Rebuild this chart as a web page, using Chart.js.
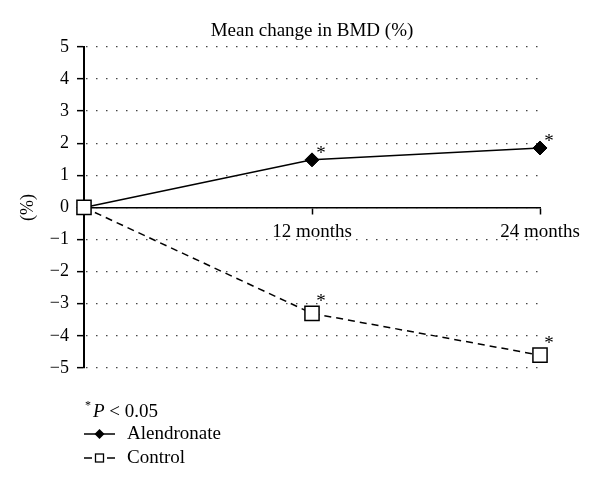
<!DOCTYPE html>
<html>
<head>
<meta charset="utf-8">
<script src="https://cdn.jsdelivr.net/npm/chart.js@4.4.0/dist/chart.umd.min.js"></script>
<style>
html, body { margin: 0; padding: 0; background: #fff; }
#wrap { width: 600px; height: 490px; }
</style>
</head>
<body>
<div id="wrap"><canvas id="c" width="600" height="490"></canvas></div>
<script>
// data
const months = [0, 12, 24];
const alendronate = [0, 1.48, 1.85];
const control = [0, -3.3, -4.6];
const alendronateSig = [false, true, true];
const controlSig = [false, true, true];
const yTicks = [-5, -4, -3, -2, -1, 0, 1, 2, 3, 4, 5];
const xTicks = [12, 24];
const seriesNames = ['Alendronate', 'Control'];

const SERIF = '"Liberation Serif", "DejaVu Serif", serif';

// asterisks next to significant points
const starPlugin = {
    id: 'stars',
    afterDatasetsDraw(chart) {
        const ctx = chart.ctx;
        const sigs = [alendronateSig, controlSig];
        const offs = [[9, -9], [9, -14]];
        ctx.save();
        ctx.fillStyle = '#000';
        ctx.font = '19px ' + SERIF;
        ctx.textAlign = 'center';
        ctx.textBaseline = 'middle';
        chart.data.datasets.forEach((ds, i) => {
            const meta = chart.getDatasetMeta(i);
            meta.data.forEach((pt, j) => {
                if (sigs[i][j]) ctx.fillText('*', pt.x + offs[i][0], pt.y + offs[i][1] + 3);
            });
        });
        ctx.restore();
    }
};

// legend block below the plot
const legendPlugin = {
    id: 'footLegend',
    afterDraw(chart) {
        const ctx = chart.ctx;
        const x0 = 84;
        ctx.save();
        ctx.fillStyle = '#000';
        ctx.strokeStyle = '#000';
        ctx.textBaseline = 'alphabetic';
        ctx.textAlign = 'left';

        // * P < 0.05
        ctx.font = '12px ' + SERIF;
        ctx.fillText('*', x0 + 1, 409);
        ctx.font = 'italic 19px ' + SERIF;
        ctx.fillText('P', x0 + 9, 417);
        const pw = ctx.measureText('P').width;
        ctx.font = '19px ' + SERIF;
        ctx.fillText(' < 0.05', x0 + 9 + pw, 417);

        const rows = [434, 458];
        chart.data.datasets.forEach((ds, i) => {
            const y = rows[i];
            ctx.lineWidth = 1.5;
            ctx.beginPath();
            if (ds.borderDash && ds.borderDash.length) {
                ctx.moveTo(x0, y); ctx.lineTo(x0 + 8, y);
                ctx.moveTo(x0 + 23, y); ctx.lineTo(x0 + 31, y);
            } else {
                ctx.moveTo(x0, y); ctx.lineTo(x0 + 31, y);
            }
            ctx.stroke();
            const cx = x0 + 15.5;
            if (ds.pointStyle === 'rectRot') {
                ctx.beginPath();
                ctx.moveTo(cx, y - 5); ctx.lineTo(cx + 5, y); ctx.lineTo(cx, y + 5); ctx.lineTo(cx - 5, y);
                ctx.closePath();
                ctx.fill();
            } else {
                ctx.fillStyle = '#fff';
                ctx.fillRect(cx - 4, y - 4, 8, 8);
                ctx.fillStyle = '#000';
                ctx.lineWidth = 1.3;
                ctx.strokeRect(cx - 4, y - 4, 8, 8);
            }
            ctx.font = '19px ' + SERIF;
            ctx.textBaseline = 'middle';
            ctx.fillText(ds.label, x0 + 43, y);
            ctx.textBaseline = 'alphabetic';
        });
        ctx.restore();
    }
};

new Chart(document.getElementById('c'), {
    type: 'line',
    data: {
        datasets: [{
            label: seriesNames[0],
            data: months.map((m, i) => ({ x: m, y: alendronate[i] })),
            order: 1,
            borderColor: '#000',
            backgroundColor: '#000',
            borderWidth: 1.5,
            pointStyle: 'rectRot',
            pointRadius: 7,
            pointBorderWidth: 1,
            pointBackgroundColor: '#000',
            pointBorderColor: '#000',
            tension: 0,
            clip: false
        }, {
            label: seriesNames[1],
            data: months.map((m, i) => ({ x: m, y: control[i] })),
            order: 0,
            borderColor: '#000',
            backgroundColor: '#fff',
            borderWidth: 1.5,
            borderDash: [7, 5],
            pointStyle: 'rect',
            pointRadius: 10,
            pointBorderWidth: 1.5,
            pointBackgroundColor: '#fff',
            pointBorderColor: '#000',
            tension: 0,
            clip: false
        }]
    },
    options: {
        responsive: false,
        devicePixelRatio: 1,
        animation: false,
        events: [],
        layout: { padding: { left: 0, right: 60, top: 0, bottom: 122 } },
        plugins: {
            legend: { display: false },
            tooltip: { enabled: false },
            title: {
                display: true,
                fullSize: false,
                text: 'Mean change in BMD (%)',
                color: '#000',
                font: { family: SERIF, size: 19, weight: 'normal' },
                padding: { top: 20, bottom: 4 }
            }
        },
        scales: {
            x: {
                type: 'linear',
                position: { y: 0 },
                min: 0,
                max: 24,
                afterBuildTicks: s => { s.ticks = xTicks.map(v => ({ value: v })); },
                ticks: {
                    autoSkip: false,
                    maxRotation: 0,
                    color: '#000',
                    padding: 7,
                    font: { family: SERIF, size: 19 },
                    callback: v => v + ' months'
                },
                grid: {
                    drawOnChartArea: false,
                    drawTicks: true,
                    tickLength: 6,
                    tickColor: '#000',
                    tickWidth: 1.5
                },
                border: { display: true, color: '#000', width: 1.5 }
            },
            y: {
                min: -5,
                max: 5,
                afterBuildTicks: s => { s.ticks = yTicks.map(v => ({ value: v })); },
                afterFit: s => { s.width = 84; },
                ticks: {
                    color: '#000',
                    padding: 8,
                    font: { family: SERIF, size: 18 },
                    callback: v => String(v).replace('-', '\u2212')
                },
                grid: {
                    color: '#444',
                    lineWidth: 1.3,
                    drawTicks: true,
                    tickLength: 7,
                    tickColor: '#000',
                    tickWidth: 1.5
                },
                border: { display: true, color: '#000', width: 2, dash: [1.5, 8.5], dashOffset: -1 },
                title: {
                    display: true,
                    text: '(%)',
                    color: '#000',
                    font: { family: SERIF, size: 18 },
                    padding: { top: 17, bottom: 0 }
                }
            }
        }
    },
    plugins: [starPlugin, legendPlugin]
});
</script>
</body>
</html>
